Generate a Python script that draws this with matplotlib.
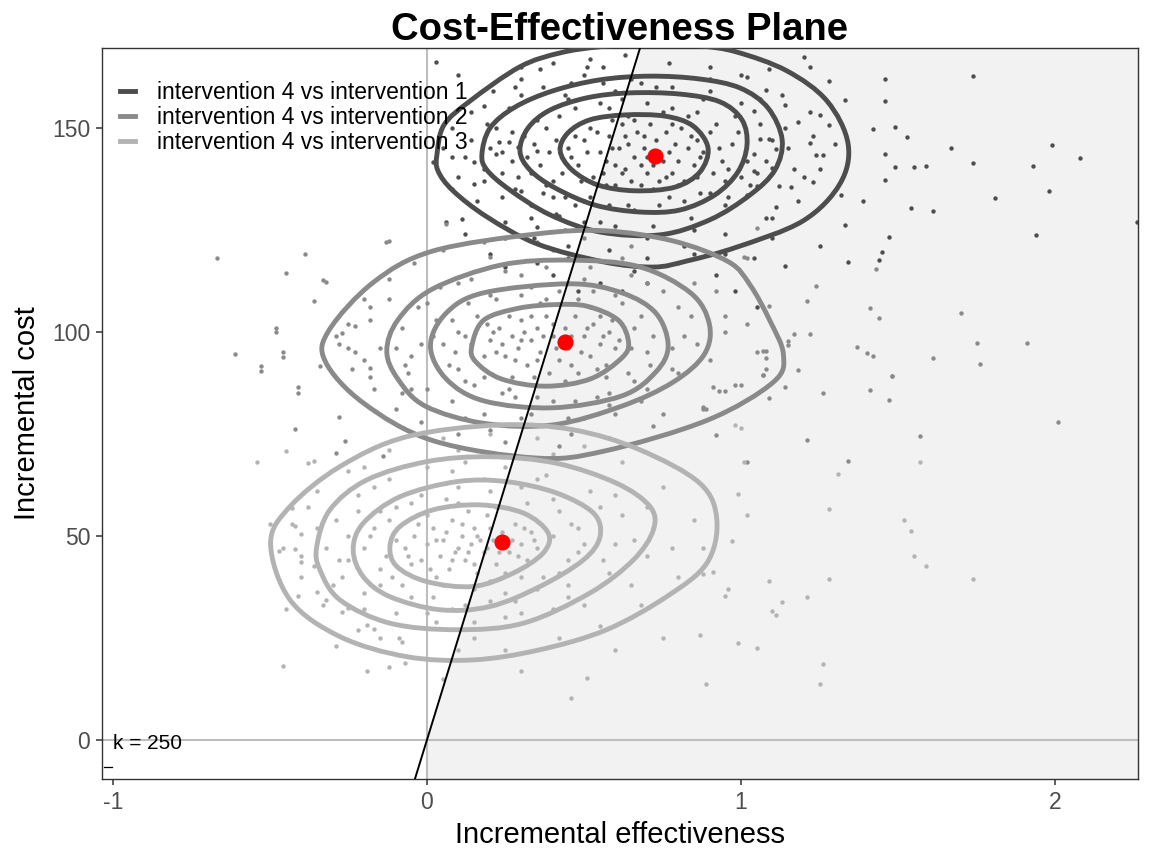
import numpy as np
import matplotlib
matplotlib.use("Agg")
import matplotlib.pyplot as plt
from matplotlib.path import Path
from matplotlib.patches import PathPatch, Polygon
from matplotlib.lines import Line2D

plt.rcParams['font.family'] = ['Liberation Sans', 'DejaVu Sans']
plt.rcParams['axes.unicode_minus'] = False

# ---------------- data ----------------
labels = ["intervention 4 vs intervention 1",
          "intervention 4 vs intervention 2",
          "intervention 4 vs intervention 3"]
colors = ["#4D4D4D", "#8A8A8A", "#B3B3B3"]
wtp_k = 250
x_ticks = [-1, 0, 1, 2]
y_ticks = [0, 50, 100, 150]
x_lim = (-1.035, 2.264)
y_lim = (-9.6, 169.6)

# mean incremental effectiveness / cost per comparison
mean_e = [0.726, 0.438, 0.238]
mean_c = [143.1, 97.5, 48.5]

# simulated (e, c) pairs
g1_points = [
    (1.46,162),(1.74,162.7),(1.46,156.6),(1.42,149.7),(1.49,150.2),(1.53,147.8),(1.67,145),(1.99,145.8),
    (2.08,142.6),(1.46,143.6),(1.49,140.4),(1.55,140.4),(1.59,140.7),(1.74,141.4),(1.93,140.7),(1.46,137.3),
    (1.81,132.8),(1.98,134.6),(1.39,132.1),(1.54,130.4),(1.61,129.7),(1.94,123.8),(1.33,126.2),(1.47,123.3),
    (1.45,119.6),(1.34,117.2),(1.14,116.2),(1.10,123.0),(2.26,127.0),(1.44,117.6),
    (1.20,167.4),(1.22,164.9),(1.28,161.5),(1.33,156.9),(1.25,153.2),(1.18,151.5),(1.28,150.7),(1.23,148),
    (1.22,146.3),(1.24,143.4),(1.26,143.4),(1.23,136.8),(1.16,135.5),(1.11,130.6),(1.32,133.6),(1.14,155.6),
    (1.08,159.3),(1.02,162.5),(1.09,164.5),(1.04,154.2),(1.06,147.3),(1.09,147.3),(1.11,144.9),(1.04,143.6),
    (1.04,139.5),(1.10,140.2),(1.12,135.8),(1.05,135.8),(1.02,133.6),(1.04,118.1),
    (0.03,166.2),(0.10,163),(0.18,155.4),(0.15,141.7),(0.08,142.9),(0.02,141.7),(0.18,137),(0.15,136.3),
    (0.06,127),(0.11,127.7),(0.24,133.1),(0.30,134.6),(0.35,125.7),(0.42,128.4),(0.20,119.1),(0.23,146.6),
    (0.26,146.6),(0.22,143.6),(0.29,145.3),(0.35,144.4),(0.30,165),(0.36,164.5),(0.51,165),(0.56,165),
    (0.45,145),(0.48,141),(0.50,147),(0.52,150),(0.53,138),(0.55,144),(0.57,142),(0.58,148),(0.60,136),
    (0.61,145),(0.62,151),(0.63,140),(0.64,146),(0.65,137),(0.66,143),(0.67,149),(0.68,141),(0.69,145),
    (0.70,139),(0.71,151),(0.73,147),(0.74,137),(0.75,142),(0.76,149),(0.77,144),(0.78,139),(0.79,146),
    (0.80,142),(0.81,150),(0.82,137),(0.83,145),(0.85,141),(0.86,147),(0.87,143),(0.56,139),(0.47,148),
    (0.59,152),(0.72,135),(0.64,153),(0.54,136),
    (0.34,146),(0.36,141),(0.38,150),(0.40,137),(0.42,153),(0.44,133),(0.47,155),(0.50,132),(0.55,156),
    (0.58,131),(0.62,157),(0.66,130),(0.70,156),(0.74,131),(0.78,155),(0.82,132),(0.86,154),(0.90,134),
    (0.92,151),(0.95,137),(0.97,146),(0.94,142),(0.91,139),(0.39,144),(0.33,139),(0.37,134),(0.45,157),
    (0.88,157),(0.99,149),(0.31,148),
    (0.20,145),(0.22,150),(0.24,139),(0.26,155),(0.28,135),(0.30,158),(0.33,131),(0.37,160),(0.41,129),
    (0.46,161),(0.50,127),(0.56,161),(0.60,126),(0.68,161),(0.72,126),(0.78,160),(0.84,128),(0.90,159),
    (0.95,131),(1.00,156),(1.03,136),(1.06,151),(1.08,142),(1.10,147),(1.05,139),(0.27,142),(0.44,125),
    (0.65,162),
    (0.05,145),(0.08,150),(0.10,138),(0.14,154),(0.16,132),(0.21,159),(0.25,127),(0.30,162),(0.34,123),
    (0.40,166),(0.45,121),(0.52,167),(0.58,120),(0.63,168),(0.70,118),(0.77,166),(0.82,121),(0.90,165),
    (0.95,124),(1.00,163),(1.08,128),(1.13,158),(1.18,132),(1.22,154),(1.25,140),(1.30,146),(0.85,119),
    (0.12,124),(0.40,114),(0.55,112),(0.92,114),(0.62,110),(1.25,121),(0.35,117),(0.48,110),(0.70,112),
    (0.98,110),(1.05,106),(0.25,116),
    (0.46,143),(0.49,137),(0.51,144),(0.54,149),(0.57,136),(0.59,145),(0.62,139),(0.63,148),(0.66,152),
    (0.68,136),(0.69,148),(0.72,141),(0.74,144),(0.76,138),(0.78,151),(0.80,136),(0.84,148),(0.86,138),
    (0.88,144),(0.90,149),(0.60,141),(0.70,143),(0.58,155),(0.75,154),(0.83,153),(0.93,145),(0.96,140),
    (0.52,133),(0.64,131),(0.77,133),(0.87,134),(0.35,152),(0.41,147),(0.43,139),(0.38,136),(0.32,143),
    (0.27,149),(0.24,144),(0.29,138),(0.44,158),(0.60,159),(0.73,160),(0.84,158),(0.98,153),(1.02,142),
    (1.00,138),(0.96,133),(0.85,125),(0.70,123),(0.55,127),(0.47,131),(0.40,133),(0.33,128),(0.18,140),
    (0.14,147),(0.19,151),(0.12,143),(0.28,160),(0.50,163),(0.90,162),(1.06,157),(1.15,145),(1.17,140),
    (1.14,150),(1.20,138),(0.08,135),(0.25,123),(0.45,118),(0.66,115),(0.95,119),(1.10,128),
]
g2_points = [
    (-0.67,118.1),(-0.39,119.1),(-0.45,114.4),(-0.33,112.7),(-0.36,107.6),(-0.48,101),(-0.61,94.6),
    (-0.46,95.1),(-0.53,91.7),(-0.41,86.5),(-0.34,91.7),(-0.28,79.2),(-0.42,76.2),(-0.26,73.3),(-0.29,70.3),
    (-0.14,69.6),(-0.12,122.3),(-0.18,106.1),(-0.23,101.5),(-0.27,99.8),(-0.29,99),(-0.25,96.1),(-0.23,95.1),
    (-0.18,91.2),(-0.18,89),(-0.48,100),(-0.46,93.9),(-0.53,90.4),(-0.41,85),(-0.32,112.3),(-0.13,122),
    (0.06,126.5),(0.20,118.4),
    (1.00,87),(1.07,89.5),(0.91,86.5),(0.93,85.5),(0.95,85.5),(0.88,81.6),(0.89,81.1),(1.14,86.5),(1.09,83.8),
    (1.26,85),(1.48,89.2),(1.41,85.8),(1.47,83.3),(1.57,74.5),(1.21,73.5),(1.34,68.4),(1.02,68.1),(0.92,74.7),
    (2.01,77.9),(1.18,90.7),(1.05,125.5),(1.01,118.4),(1.02,118),(1.43,115.4),(1.24,111.3),(1.21,107.6),
    (1.09,106.4),(1.41,105.9),(1.44,103.4),(1.70,104.7),(1.17,99.5),(1.22,99.5),(1.15,97.8),(1.15,96.8),
    (1.07,95.3),(1.08,95.3),(1.08,93.6),(1.37,96.3),(1.40,94.9),(1.42,94.1),(1.61,93.6),(1.75,97.3),
    (1.91,97.3),(1.76,92.2),(1.07,89.5),(1.48,89.2),
    (0.20,98),(0.23,101),(0.25,94),(0.27,99),(0.29,96),(0.30,103),(0.32,92),(0.33,98),(0.35,101),(0.36,95),
    (0.38,104),(0.39,90),(0.40,99),(0.42,93),(0.44,101),(0.45,96),(0.47,104),(0.48,90),(0.50,99),(0.52,94),
    (0.53,102),(0.55,97),(0.57,92),(0.58,100),(0.60,96),(0.22,95),(0.26,104),(0.34,89),(0.46,92),(0.55,104),
    (0.31,100),(0.41,96),
    (0.05,97),(0.08,103),(0.10,91),(0.13,107),(0.15,87),(0.20,109),(0.24,85),(0.30,109),(0.35,84),(0.42,110),
    (0.47,83),(0.53,110),(0.58,85),(0.62,107),(0.66,88),(0.68,104),(0.71,92),(0.72,99),(0.65,96),(0.12,99),
    (0.09,95),(0.18,89),(0.38,108),(0.28,84),
    (-0.10,96),(-0.08,101),(-0.06,90),(-0.03,106),(0.00,86),(0.04,111),(0.08,83),(0.14,113),(0.18,80),
    (0.25,115),(0.30,79),(0.38,116),(0.45,79),(0.52,116),(0.58,82),(0.65,114),(0.70,86),(0.75,110),(0.80,90),
    (0.84,104),(0.86,97),(0.78,96),(-0.05,94),(0.02,99),(0.60,80),
    (-0.28,97),(-0.25,102),(-0.24,91),(-0.20,108),(-0.17,86),(-0.12,113),(-0.10,81),(-0.04,117),(-0.02,78),
    (0.05,120),(0.10,75),(0.18,122),(0.25,73),(0.35,122),(0.42,72),(0.50,123),(0.58,74),(0.65,121),(0.72,77),
    (0.80,117),(0.88,81),(0.92,110),(0.98,87),(1.02,102),(1.05,95),(0.95,100),(1.08,91),
    (0.21,100),(0.24,97),(0.28,93),(0.30,98),(0.33,104),(0.35,93),(0.37,99),(0.40,102),(0.43,98),(0.46,99),
    (0.49,95),(0.51,101),(0.54,91),(0.56,99),(0.59,103),(0.61,98),(0.18,94),(0.19,102),(0.27,89),(0.36,107),
    (0.44,88),(0.52,106),(0.57,89),(0.14,97),(0.16,104),(0.10,100),(0.07,92),(0.12,88),(0.22,108),(0.33,111),
    (0.48,108),(0.60,109),(0.66,101),(0.70,95),(0.64,90),(0.54,84),(0.40,83),(0.26,86),(0.03,103),(-0.02,97),
    (-0.07,92),(0.00,107),(0.10,112),(0.30,114),(0.50,113),(0.70,112),(0.80,106),(0.82,99),(0.78,91),(0.68,83),
    (0.50,79),(0.33,80),(0.12,79),(-0.05,86),(-0.15,96),(-0.18,103),(-0.12,108),(0.90,93),(0.95,104),
    (0.85,112),(0.62,118),(0.40,120),(-0.20,93),(-0.08,85),(0.20,76),(0.46,75),(0.75,80),
]
g3_points = [
    (-0.54,68.1),(-0.45,70.8),(-0.38,67.9),(-0.36,68.4),(-0.50,52.9),(-0.47,46.3),(-0.42,52.5),(-0.40,50.5),
    (-0.42,46.8),(-0.40,43.6),(-0.41,35.3),(-0.45,32.1),(-0.35,36.3),(-0.32,34.3),(-0.25,32.4),(-0.27,31.4),
    (-0.19,28.2),(-0.17,27.2),(-0.29,23),(-0.46,18.1),(-0.19,16.9),(-0.12,17.9),(-0.07,18.9),(-0.09,25),
    (-0.43,56.9),(-0.36,42.5),
    (0.98,77.2),(1.00,76.5),(1.01,68.1),(1.31,65.2),(1.57,68.1),(0.99,60.3),(1.02,55.1),(1.28,56.6),
    (1.52,53.9),(1.54,51.2),(1.55,45.1),(1.59,42.6),(1.74,39.5),(0.97,48.8),(0.91,41.2),(0.88,40.7),
    (0.96,37.0),(0.95,35.3),(1.09,39.0),(1.13,33.8),(1.10,31.6),(1.11,30.6),(1.21,35.0),(1.28,39.5),
    (0.99,23.8),(1.05,22.5),(1.26,18.6),(1.25,13.7),(0.89,13.7),(0.87,25.7),
    (0.51,15.2),(0.46,10.3),(0.30,17),(0.05,15),(0.60,22),(0.75,25),
    (-0.07,47),(-0.04,50),(-0.02,44),(0.00,48),(0.02,52),(0.04,45),(0.05,49),(0.07,42),(0.08,54),(0.10,47),
    (0.11,50),(0.12,44),(0.14,48),(0.15,52),(0.16,41),(0.18,46),(0.19,55),(0.21,49),(0.22,43),(0.24,51),
    (0.26,46),(0.28,53),(0.30,48),(0.32,44),(0.33,51),(0.35,47),(0.03,40),(0.13,56),(0.20,39),(-0.05,43),
    (0.09,46),(0.17,49),
    (-0.20,47),(-0.17,52),(-0.15,42),(-0.10,57),(-0.08,38),(-0.02,60),(0.02,35),(0.10,62),(0.12,33),
    (0.20,61),(0.25,36),(0.32,58),(0.37,40),(0.42,56),(0.45,44),(0.48,52),(0.50,48),(0.40,50),(0.28,34),
    (0.06,59),(-0.12,54),
    (-0.32,47),(-0.29,54),(-0.27,40),(-0.22,60),(-0.20,36),(-0.12,64),(-0.10,31),(0.00,67),(0.03,29),
    (0.12,68),(0.15,29),(0.25,67),(0.30,31),(0.38,65),(0.45,35),(0.52,61),(0.58,41),(0.62,55),(0.66,49),
    (0.60,48),(0.55,57),(-0.25,44),(0.40,32),
    (-0.46,47),(-0.43,53),(-0.40,40),(-0.35,61),(-0.33,33),(-0.25,66),(-0.22,27),(-0.12,71),(-0.08,24),
    (0.05,74),(0.10,22),(0.20,75),(0.25,22),(0.35,74),(0.42,25),(0.50,72),(0.55,28),(0.62,68),(0.68,33),
    (0.75,62),(0.80,40),(0.85,54),(0.88,47),(0.78,47),(0.70,57),(0.65,38),(-0.38,57),
    (-0.06,45),(-0.03,53),(0.01,42),(0.03,49),(0.06,51),(0.08,44),(0.11,53),(0.13,46),(0.15,43),(0.16,50),
    (0.19,47),(0.20,52),(0.23,46),(0.25,41),(0.27,49),(0.29,45),(0.31,52),(0.34,49),(0.00,55),(0.05,38),
    (0.10,58),(0.15,37),(0.22,57),(0.30,40),(-0.10,49),(-0.13,45),(-0.11,40),(-0.18,50),(-0.15,56),
    (-0.05,58),(0.06,63),(0.18,64),(0.30,62),(0.40,59),(0.46,53),(0.48,46),(0.42,41),(0.35,37),(0.20,34),
    (0.08,32),(-0.05,35),(-0.15,38),(-0.25,50),(-0.22,56),(-0.28,44),(-0.17,62),(0.08,66),(0.35,64),
    (0.55,52),(0.56,44),(0.45,38),(0.25,30),(0.00,31),(-0.20,32),(-0.30,38),(0.60,60),(0.70,45),(0.72,52),
    (0.50,33),(0.15,25),(-0.15,25),(-0.35,52),(-0.40,45),(0.40,70),(0.10,71),(-0.20,67),
]

# density contour lines (inner -> outer)
g1_contours = [
    [(0.424,144.4),(0.449,148.8),(0.519,152.0),(0.631,153.2),(0.758,152.9),(0.847,150.5),(0.895,145.1),
     (0.869,139.2),(0.790,135.5),(0.662,134.6),(0.545,136.0),(0.462,139.7)],
    [(0.296,144.4),(0.322,150.0),(0.392,154.4),(0.510,157.4),(0.646,158.6),(0.806,158.3),(0.933,156.4),
     (1.003,152.0),(1.019,145.8),(0.990,139.2),(0.917,133.6),(0.806,129.9),(0.678,129.4),(0.535,131.1),
     (0.408,135.3),(0.328,139.7)],
    [(0.175,143.6),(0.201,150.0),(0.280,155.1),(0.401,159.1),(0.551,161.8),(0.710,162.7),(0.869,162.0),
     (0.997,159.8),(1.086,154.9),(1.131,147.1),(1.108,139.7),(1.029,133.6),(0.901,127.5),(0.742,123.8),
     (0.551,124.5),(0.392,128.7),(0.264,134.8),(0.191,139.7)],
    [(0.032,143.6),(0.054,150.7),(0.137,156.6),(0.296,165.0),(0.424,168.4),(0.551,169.9),(0.710,170.6),
     (0.869,170.1),(0.987,168.6),(1.146,164.0),(1.274,156.6),(1.341,146.1),(1.315,136.3),(1.197,127.2),
     (0.987,120.8),(0.828,117.4),(0.720,115.9),(0.561,117.2),(0.350,121.6),(0.191,128.2),(0.083,134.6),
     (0.035,139.5)],
]
g2_contours = [
    [(0.143,96.6),(0.181,102.9),(0.291,105.8),(0.411,106.7),(0.510,106.3),(0.609,102.9),(0.642,97.4),
     (0.620,93.6),(0.521,88.5),(0.379,86.7),(0.236,88.5),(0.154,92.8)],
    [(0.011,96.6),(0.061,104.6),(0.181,109.6),(0.455,111.8),(0.620,109.6),(0.729,104.6),(0.768,96.6),
     (0.729,90.2),(0.620,84.3),(0.400,81.4),(0.181,83.1),(0.061,88.5)],
    [(-0.128,95.3),(-0.093,102.9),(0.017,110.5),(0.236,116.4),(0.455,117.6),(0.675,116.0),(0.839,109.6),
     (0.899,102.0),(0.883,94.5),(0.784,87.7),(0.620,81.8),(0.400,77.2),(0.181,77.6),(-0.005,81.8),
     (-0.093,88.5)],
    [(-0.324,92.8),(-0.312,100.4),(-0.170,112.2),(0.017,119.8),(0.346,124.0),(0.565,124.8),(0.784,122.3),
     (0.960,117.2),(1.029,111.5),(1.091,102.9),(1.135,94.5),(1.103,87.7),(0.894,78.4),(0.565,70.8),
     (0.346,69.1),(0.017,73.4),(-0.203,82.6)],
]
g3_contours = [
    [(-0.118,47.4),(-0.086,52.3),(0.020,56.4),(0.169,57.6),(0.307,55.6),(0.386,50.7),(0.370,45.8),
     (0.275,40.9),(0.147,37.6),(-0.001,38.8),(-0.096,42.5)],
    [(-0.235,46.6),(-0.203,53.1),(-0.086,59.6),(0.095,63.3),(0.254,63.3),(0.413,60.5),(0.530,55.6),
     (0.551,49.8),(0.498,44.1),(0.360,37.6),(0.201,32.7),(0.041,31.9),(-0.118,35.1),(-0.203,40.0)],
    [(-0.351,47.4),(-0.309,56.4),(-0.192,63.7),(-0.001,68.2),(0.201,69.4),(0.413,67.8),(0.604,62.9),
     (0.710,57.2),(0.721,51.5),(0.657,44.1),(0.519,36.0),(0.307,28.6),(0.095,27.0),(-0.118,28.6),
     (-0.277,34.3),(-0.341,41.7)],
    [(-0.498,48.2),(-0.436,57.2),(-0.277,67.0),(-0.065,74.3),(0.232,77.2),(0.466,76.0),(0.678,71.1),
     (0.869,62.9),(0.923,53.9),(0.891,43.3),(0.763,35.1),(0.572,27.0),(0.360,22.1),(0.147,19.6),
     (-0.065,20.4),(-0.277,25.3),(-0.436,34.3)],
]

points = [g1_points, g2_points, g3_points]
contours = [g1_contours, g2_contours, g3_contours]


def smooth_closed_path(pts):
    """Closed Catmull-Rom curve expressed as cubic Bezier segments."""
    P = np.asarray(pts, float)
    n = len(P)
    verts = [P[0]]
    codes = [Path.MOVETO]
    for i in range(n):
        p0, p1, p2, p3 = P[i - 1], P[i], P[(i + 1) % n], P[(i + 2) % n]
        verts += [p1 + (p2 - p0) / 6.0, p2 - (p3 - p1) / 6.0, p2]
        codes += [Path.CURVE4] * 3
    return Path(verts, codes)


# ---------------- figure ----------------
fig = plt.figure(figsize=(11.52, 8.65), dpi=100)
ax = fig.add_axes([0.0885, 0.0994, 0.8993, 0.8451])
ax.set_xlim(*x_lim)
ax.set_ylim(*y_lim)

# cost-effective region (right of WTP line)
x0, x1 = x_lim
y0, y1 = y_lim
region = Polygon([(0, y0), (0, 0), (y1 / wtp_k, y1), (x1, y1), (x1, y0)],
                 closed=True, facecolor="#F2F2F2", edgecolor="none", zorder=0)
ax.add_patch(region)

ax.axhline(0, color="#BEBEBE", lw=1.5, zorder=1)
ax.axvline(0, color="#BEBEBE", lw=1.5, zorder=1)

for pts, col in zip(points, colors):
    arr = np.asarray(pts)
    ax.scatter(arr[:, 0], arr[:, 1], s=10, color=col, linewidths=0, zorder=2)

for cset, col in zip(contours, colors):
    for c in cset:
        ax.add_patch(PathPatch(smooth_closed_path(c), facecolor="none", edgecolor=col,
                               lw=3.5, zorder=3, joinstyle="round"))

xs_line = np.array(x_lim)
ax.plot(xs_line, wtp_k * xs_line, color="black", lw=1.4, zorder=4)

ax.scatter(mean_e, mean_c, s=135, color="red", linewidths=0, zorder=5)

ax.text(-1.0, -1.0, f"k = {wtp_k}", fontsize=15, ha="left", va="center", zorder=6)
ax.add_line(Line2D([0.002, 0.010], [0.0164, 0.0164], transform=ax.transAxes,
                   color="black", lw=0.9, zorder=6))

handles = [Line2D([], [], color=c, lw=3.5) for c in colors]
leg = ax.legend(handles, labels, loc="upper left", bbox_to_anchor=(0.0174, 0.955),
                frameon=False, fontsize=16.5, handlelength=0.65, handletextpad=0.95,
                labelspacing=0.1, borderaxespad=0.0, borderpad=0.0)
leg.set_zorder(7)

ax.set_xticks(x_ticks)
ax.set_yticks(y_ticks)
ax.tick_params(axis="both", colors="#333333", labelcolor="#4D4D4D", labelsize=16.5,
               length=4.5, width=1.1, pad=4)
for sp in ax.spines.values():
    sp.set_color("#333333")
    sp.set_linewidth(1.0)

ax.set_xlabel("Incremental effectiveness", fontsize=21, labelpad=5)
ax.set_ylabel("Incremental cost", fontsize=21, labelpad=8)
ax.set_title("Cost-Effectiveness Plane", fontsize=27.5, fontweight="bold", pad=-3.5)

fig.savefig("out.png", dpi=100)
